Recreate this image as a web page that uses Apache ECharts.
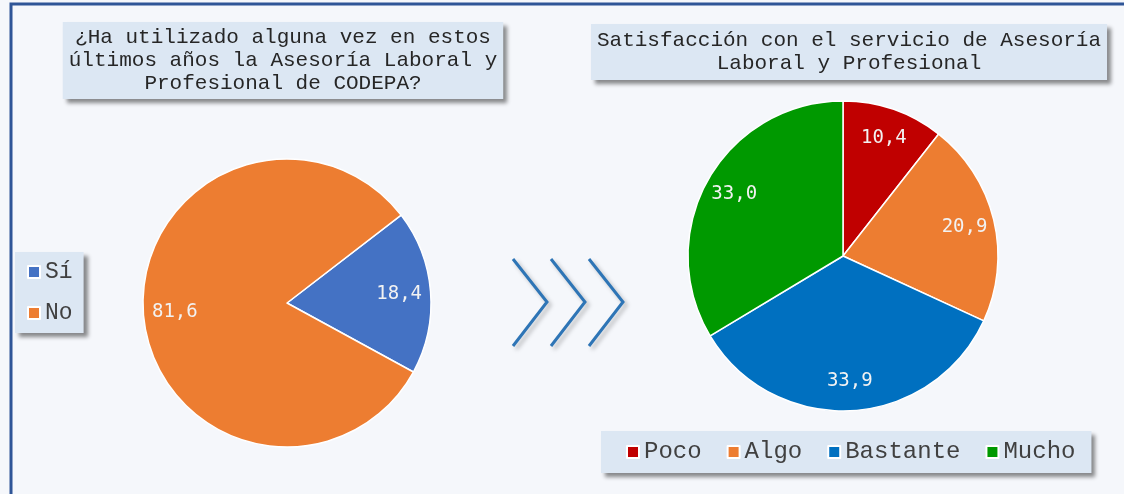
<!DOCTYPE html>
<html>
<head>
<meta charset="utf-8">
<script src="https://cdn.jsdelivr.net/npm/echarts@6/dist/echarts.min.js"></script>
<style>
  html, body { margin: 0; padding: 0; background: #f5f7fb; }
  #chart { width: 1124px; height: 494px; }
</style>
</head>
<body>
<div id="chart"></div>
<script>
// datos
const usoNames = ['Sí', 'No'];
const usoValues = [18.4, 81.6];
const usoColors = ['#4472c4', '#ed7d31'];

const satNames = ['Poco', 'Algo', 'Bastante', 'Mucho'];
const satValues = [10.4, 20.9, 33.9, 33.0];
const satColors = ['#c00000', '#ed7d31', '#0070c0', '#009900'];

const titleLeft = '¿Ha utilizado alguna vez en estos\núltimos años la Asesoría Laboral y\nProfesional de CODEPA?';
const titleRight = 'Satisfacción con el servicio de Asesoría\nLaboral y Profesional';

const mono = '"Liberation Mono", "Courier New", monospace';
const monoSans = '"DejaVu Sans Mono", monospace';

const fmt = p => p.value.toFixed(1).replace('.', ',');

const toData = (names, values, colors) =>
  names.map((n, i) => colors
    ? { name: n, value: values[i], itemStyle: { color: colors[i] } }
    : { name: n, value: values[i] });

const boxStyle = {
  backgroundColor: '#dce7f3',
  shadowBlur: 4,
  shadowColor: 'rgba(0,0,0,0.45)',
  shadowOffsetX: 4,
  shadowOffsetY: 4
};

// chevrons
const chevrons = [0, 38, 76].map(dx => ({
  type: 'polyline',
  shape: { points: [[513 + dx, 259], [547 + dx, 302], [513 + dx, 346]] },
  style: {
    stroke: '#2e75b6', lineWidth: 3, fill: null,
    shadowBlur: 4, shadowColor: 'rgba(0,0,0,0.25)', shadowOffsetX: 3, shadowOffsetY: 3
  },
  silent: true
}));

const labelStyle = { show: true, position: 'inside', formatter: fmt, fontFamily: monoSans, fontSize: 19, color: '#f2f2f2' };

const chart = echarts.init(document.getElementById('chart'));
chart.setOption({
  backgroundColor: '#f5f7fb',
  animation: false,
  title: [
    Object.assign({
      text: titleLeft, left: 277, top: 22, textAlign: 'center',
      padding: [4, 6],
      textStyle: { fontFamily: mono, fontSize: 21, lineHeight: 23, fontWeight: 'normal', color: '#262626' }
    }, boxStyle),
    Object.assign({
      text: titleRight, left: 843, top: 24, textAlign: 'center',
      padding: [5, 6],
      textStyle: { fontFamily: mono, fontSize: 21, lineHeight: 23, fontWeight: 'normal', color: '#262626' }
    }, boxStyle)
  ],
  legend: [
    Object.assign({
      data: usoNames, orient: 'vertical', left: 15, top: 252,
      padding: [8, 11, 8, 12], itemGap: 17,
      itemWidth: 12, itemHeight: 12, icon: 'rect',
      itemStyle: { borderColor: '#fff', borderWidth: 2 },
      textStyle: { fontFamily: mono, fontSize: 23, lineHeight: 24, color: '#404040' },
      selectedMode: false
    }, boxStyle),
    Object.assign({
      data: satNames, orient: 'horizontal', left: 601, top: 431,
      padding: [9, 16, 9, 25], itemGap: 25,
      itemWidth: 12, itemHeight: 12, icon: 'rect',
      itemStyle: { borderColor: '#fff', borderWidth: 2 },
      textStyle: { fontFamily: mono, fontSize: 24, lineHeight: 24, color: '#404040' },
      selectedMode: false
    }, boxStyle)
  ],
  series: [
    {
      type: 'pie', center: [287, 303], radius: 144, startAngle: 37.6,
      data: toData(usoNames, usoValues, usoColors),
      itemStyle: { borderColor: '#fff', borderWidth: 1.5 },
      label: { show: false }, labelLine: { show: false },
      emphasis: { disabled: true }, silent: true
    },
    {
      // capa de etiquetas (transparente)
      type: 'pie', center: [287, 303], radius: [75, 144], startAngle: 37.6,
      data: toData(usoNames, usoValues),
      itemStyle: { color: 'rgba(0,0,0,0)', borderWidth: 0 },
      label: labelStyle, labelLine: { show: false },
      emphasis: { disabled: true }, silent: true
    },
    {
      type: 'pie', center: [843, 256], radius: 155, startAngle: 90,
      data: toData(satNames, satValues, satColors),
      itemStyle: { borderColor: '#fff', borderWidth: 1.5 },
      label: { show: false }, labelLine: { show: false },
      emphasis: { disabled: true }, silent: true
    },
    {
      type: 'pie', center: [843, 256], radius: [89, 155], startAngle: 90,
      data: toData(satNames, satValues),
      itemStyle: { color: 'rgba(0,0,0,0)', borderWidth: 0 },
      label: labelStyle, labelLine: { show: false },
      emphasis: { disabled: true }, silent: true
    }
  ],
  graphic: [
    {
      type: 'rect', shape: { x: 11, y: 4, width: 1300, height: 700 },
      style: { stroke: '#2f5597', lineWidth: 3, fill: null }, silent: true, z: -1
    }
  ].concat(chevrons)
});
</script>
</body>
</html>
